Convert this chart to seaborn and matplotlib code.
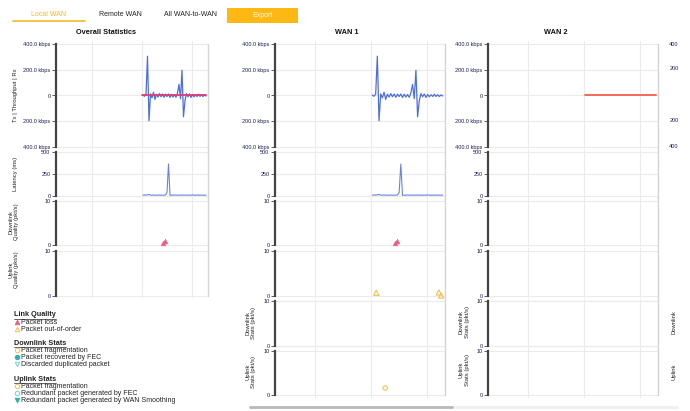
import matplotlib
matplotlib.use("Agg")
import matplotlib.pyplot as plt
from matplotlib.lines import Line2D
from matplotlib.patches import Rectangle
import seaborn as sns
import pandas as pd

# ---------------- data ----------------
t = [174, 177, 180, 183, 186, 189, 192, 195, 198, 201, 204, 207, 210, 213, 216,
     219, 222, 225, 228, 231, 234, 237, 240, 243, 246, 249, 252, 255, 258, 261,
     264, 267, 270, 273, 276, 279, 282, 285, 288, 291, 294, 297, 300]
# Tx positive / Rx negative throughput (kbps)
thr_kbps = [3, -6, 10, 305, -196, 12, -18, 25, -30, 10, -12, 15, -10, 12, -14,
            10, -8, 12, -15, 10, -12, 8, -14, 20, 86, -25, 196, -165, -40, 15,
            -10, 12, -15, 8, -10, 6, -8, 10, -7, 6, -8, 5, -4]
latency_ms = [10, 12, 10, 14, 18, 10, 9, 12, 10, 9, 10, 11, 9, 10, 10,
              12, 40, 364, 8, 10, 9, 12, 10, 9, 11, 10, 9, 12, 10, 9,
              10, 11, 9, 13, 10, 9, 10, 11, 9, 10, 10, 9, 10]
wan2_t = [173, 300]
wan2_kbps = [0, 0]

loss_t = [214, 218]
loss_v = [0.4, 0.9]
ooo_t = [181, 293, 297]
ooo_v = [0.7, 0.8, 0.1]
ul_frag_t = [197]
ul_frag_v = [1.6]

tabs = ["Local WAN", "Remote WAN", "All WAN-to-WAN"]
col_titles = ["Overall Statistics", "WAN 1", "WAN 2"]
thr_ticks = [-400, -200, 0, 200, 400]
thr_labels = ["400.0 kbps", "200.0 kbps", "0", "200.0 kbps", "400.0 kbps"]
lat_ticks = [0, 250, 500]
lat_labels = ["0", "250", "500"]
q_ticks = [0, 10]
q_labels = ["0", "10"]

legend_groups = [
    ("Link Quality", [("Packet loss", "^", "#ef5b84", True),
                      ("Packet out-of-order", "^", "#f7c04f", False)]),
    ("Downlink Stats", [("Packet fragmentation", "o", "#f7c04f", False),
                        ("Packet recovered by FEC", "o", "#2bb3b1", True),
                        ("Discarded duplicated packet", "v", "#7fc8e8", False)]),
    ("Uplink Stats", [("Packet fragmentation", "o", "#f7c04f", False),
                      ("Redundant packet generated by FEC", "o", "#6fd0d0", False),
                      ("Redundant packet generated by WAN Smoothing", "v", "#25b3ad", True)]),
]

df = pd.DataFrame({"t": t, "thr": thr_kbps, "lat": latency_ms})
df_w2 = pd.DataFrame({"t": wan2_t, "v": wan2_kbps})
df_loss = pd.DataFrame({"t": loss_t, "v": loss_v})
df_ooo = pd.DataFrame({"t": ooo_t, "v": ooo_v})
df_frag = pd.DataFrame({"t": ul_frag_t, "v": ul_frag_v})

# ---------------- figure ----------------
sns.set_theme(style="white")
plt.rcParams['font.family'] = ['Liberation Sans', 'DejaVu Sans']

W, H = 690, 411
fig = plt.figure(figsize=(6.9, 4.11), dpi=100)
fig.patch.set_facecolor("white")

NAVY = "#1c1c5a"
BLUE = "#4f6fd8"


def fx(x):
    return x / W


def fy(y):
    return 1 - y / H


def ftext(x, y, s, **kw):
    kw.setdefault("va", "center")
    return fig.text(fx(x), fy(y), s, **kw)


def fline(x0, x1, y0, y1, **kw):
    fig.add_artist(Line2D([fx(x0), fx(x1)], [fy(y0), fy(y1)], transform=fig.transFigure, **kw))


rows = [
    ("thr", 44, 147, -400, 400, thr_ticks, thr_labels),
    ("lat", 152, 196, 0, 500, lat_ticks, lat_labels),
    ("dlq", 201, 245, 0, 10, q_ticks, q_labels),
    ("ulq", 251, 296, 0, 10, q_ticks, q_labels),
    ("dls", 301, 346, 0, 10, q_ticks, q_labels),
    ("uls", 351, 395, 0, 10, q_ticks, q_labels),
]
cols = [(56, 208, 4), (275, 445, 6), (488, 658, 6)]

PADPX = 2.5


def make_panel(x0, x1, top, bot, lo, hi, ticks, labels, first, last):
    ax = fig.add_axes([fx(x0), fy(bot + PADPX), (x1 - x0) / W, (bot - top + 2 * PADPX) / H])
    pad = PADPX / (bot - top) * (hi - lo)
    ax.set_xlim(0, 304)
    ax.set_ylim(lo - pad, hi + pad)
    ax.set_yticks(ticks)
    ax.set_yticklabels(labels, fontsize=4, color=NAVY)
    ax.set_xticks([72, 172, 272])
    ax.set_xticklabels([])
    ax.tick_params(axis="x", length=0, bottom=False)
    ax.tick_params(axis="y", left=True, length=3, width=0.6, color="#444444", pad=1)
    ax.grid(True, color="#ebebeb", lw=0.8)
    ax.set_axisbelow(True)
    ax.spines["top"].set_visible(False)
    ax.spines["bottom"].set_visible(False)
    ax.spines["left"].set_color("#444444")
    ax.spines["left"].set_linewidth(1.6)
    ax.spines["left"].set_bounds(lo, hi)
    ax.spines["right"].set_color("#d4d4d4")
    ax.spines["right"].set_linewidth(1.0)
    rb_lo = lo if last else lo - pad
    rb_hi = hi if first else hi + pad
    ax.spines["right"].set_bounds(rb_lo, rb_hi)
    ax.patch.set_alpha(0)
    return ax


for ci, (x0, x1, nrows) in enumerate(cols):
    for ri in range(nrows):
        key, top, bot, lo, hi, ticks, labels = rows[ri]
        ax = make_panel(x0, x1, top, bot, lo, hi, ticks, labels, ri == 0, ri == nrows - 1)
        if key == "thr":
            if ci in (0, 1):
                sns.lineplot(data=df, x="t", y="thr", ax=ax, color=BLUE, lw=0.9, legend=False)
            if ci == 0:
                sns.lineplot(data=df_w2, x="t", y="v", ax=ax, color="#d6407e", lw=1.3, legend=False)
            if ci == 2:
                sns.lineplot(data=df_w2, x="t", y="v", ax=ax, color="#f2695a", lw=1.4, legend=False)
        elif key == "lat":
            if ci in (0, 1):
                sns.lineplot(data=df, x="t", y="lat", ax=ax, color=BLUE, lw=0.8, alpha=0.85, legend=False)
        elif key == "dlq":
            if ci in (0, 1):
                sns.scatterplot(data=df_loss, x="t", y="v", ax=ax, marker="^", s=12,
                                color="#ef5b84", edgecolor="#ef5b84", linewidth=0.3,
                                legend=False, clip_on=False)
        elif key == "ulq":
            if ci == 1:
                sns.scatterplot(data=df_ooo, x="t", y="v", ax=ax, marker="^", s=14,
                                color="#f7c04f", edgecolor="#f7c04f", linewidth=0.8,
                                legend=False, clip_on=False)
                ax.collections[-1].set_facecolor("none")
        elif key == "uls":
            if ci == 1:
                sns.scatterplot(data=df_frag, x="t", y="v", ax=ax, marker="o", s=10,
                                color="#f7c04f", edgecolor="#f7c04f", linewidth=0.8,
                                legend=False, clip_on=False)
                ax.collections[-1].set_facecolor("none")
        ax.set_xlabel("")
        ax.set_ylabel("")

# ---------------- titles and labels ----------------
ftext(106, 33, col_titles[0], ha="center", fontsize=5.3, fontweight="bold", color="#111111")
ftext(347, 32, col_titles[1], ha="center", fontsize=5.3, fontweight="bold", color="#111111")
ftext(556, 32, col_titles[2], ha="center", fontsize=5.3, fontweight="bold", color="#111111")

LBL = dict(rotation=90, ha="center", fontsize=4.2, color="#222222", multialignment="center", linespacing=1.25)
ftext(16, 95, "Tx | Throughput | Rx", **LBL)
ftext(16, 174, "Latency (ms)", **LBL)
ftext(14, 222, "Downlink\nQuality (pkt/s)", **LBL)
ftext(14, 270, "Uplink\nQuality (pkt/s)", **LBL)
ftext(251, 323, "Downlink\nStats (pkt/s)", **LBL)
ftext(251, 372, "Uplink\nStats (pkt/s)", **LBL)
ftext(464, 322, "Downlink\nStats (pkt/s)", **LBL)
ftext(464, 370, "Uplink\nStats (pkt/s)", **LBL)
ftext(674, 322, "Downlink", **LBL)
ftext(674, 372, "Uplink", **LBL)
for yy, s in [(44, "400"), (69, "200"), (121, "200"), (147, "400")]:
    ftext(674, yy, s, ha="center", fontsize=4, color=NAVY)

# ---------------- tabs ----------------
TAB = "#f5b82e"
ftext(49, 15, tabs[0], ha="center", fontsize=5, color=TAB)
ftext(120, 15, tabs[1], ha="center", fontsize=5, color="#222222")
ftext(191, 15, tabs[2], ha="center", fontsize=5, color="#222222")
fline(13, 85, 21.5, 21.5, color=TAB, lw=1.2)
fig.add_artist(Rectangle((fx(227), fy(23)), (298 - 227) / W, 15 / H, transform=fig.transFigure,
                         facecolor="#fdb813", edgecolor="none"))
ftext(262.5, 15.5, "Export", ha="center", fontsize=5, color="white")

# ---------------- legend ----------------
fig.canvas.draw()
renderer = fig.canvas.get_renderer()
heads_y = [315, 343, 379]
for (head, items), hy in zip(legend_groups, heads_y):
    ht = ftext(14, hy, head, ha="left", fontsize=5.2, fontweight="bold", color="#222222")
    bb = ht.get_window_extent(renderer=renderer)
    fline(14, 14 + bb.width, hy + 3.5, hy + 3.5, color="#222222", lw=0.5)
    for k, (lab, mk, colr, filled) in enumerate(items):
        iy = hy + 7 + 7 * k
        fig.add_artist(Line2D([fx(16.5)], [fy(iy)], transform=fig.transFigure, marker=mk,
                              markersize=3.2, linestyle="none",
                              markerfacecolor=colr if filled else "none",
                              markeredgecolor=colr, markeredgewidth=0.7))
        ftext(21, iy, lab, ha="left", fontsize=5, color="#222222")

# ---------------- scrollbar ----------------
fline(250, 677, 407, 407, color="#efefef", lw=2)
fline(250, 452, 407, 407, color="#b9b9b9", lw=2)

fig.savefig("out.png", dpi=100, facecolor="white")
